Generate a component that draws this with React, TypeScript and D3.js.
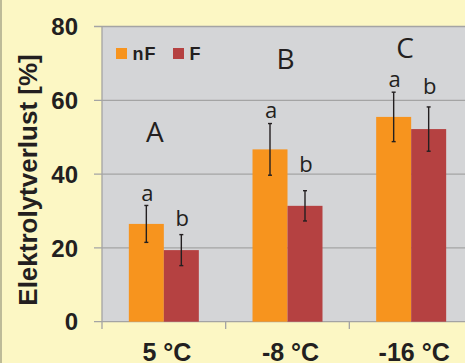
import React from "react";
import * as d3 from "d3";

const categories = ["5 °C", "-8 °C", "-16 °C"];
const series = ["nF", "F"];
const nFValues = [26.5, 46.7, 55.5];
const FValues = [19.4, 31.4, 52.2];
const nFErrors = [5.0, 7.0, 6.7];
const FErrors = [4.2, 4.1, 6.0];
const nFLetters = ["a", "a", "a"];
const FLetters = ["b", "b", "b"];
const nFLetterValues = [32.8, 55.2, 63.5];
const FLetterValues = [26.0, 40.6, 61.7];
const groupLetters = ["A", "B", "C"];
const groupLetterValues = [48.6, 68.4, 71.4];
const yTicks = [0, 20, 40, 60, 80];
const colors = { nF: "#F7941E", F: "#B54141" };

const W = 465;
const H = 363;
const plotLeft = 102;
const plotRight = 473;
const plotTop = 26.5;
const plotBottom = 321.7;

export default function App() {
  const y = d3.scaleLinear().domain([0, 80]).range([plotBottom, plotTop]);
  const x0 = d3
    .scaleBand<string>()
    .domain(categories)
    .range([plotLeft, plotRight])
    .paddingInner(0.434)
    .paddingOuter(0.217);
  const x1 = d3.scaleBand<string>().domain(series).range([0, x0.bandwidth()]);
  const step = x0.step();
  const textColor = "#231F20";
  const gridColor = "#A4A4A4";

  const data = categories.map((c, i) => ({
    c,
    bars: [
      { s: "nF", v: nFValues[i], e: nFErrors[i], l: nFLetters[i], lv: nFLetterValues[i] },
      { s: "F", v: FValues[i], e: FErrors[i], l: FLetters[i], lv: FLetterValues[i] },
    ],
  }));

  return (
    <svg
      width={W}
      height={H}
      style={{ position: "absolute", left: 0, top: 0 }}
      xmlns="http://www.w3.org/2000/svg"
    >
      <rect x={0} y={0} width={W} height={H} fill="#FCF7C4" />
      <line x1={1} x2={1} y1={0} y2={H} stroke="#A9A78A" strokeWidth={1.5} />
      <rect
        x={plotLeft}
        y={plotTop}
        width={plotRight - plotLeft}
        height={plotBottom - plotTop}
        fill="#D4D5D7"
      />
      {yTicks.map((t) => (
        <g key={t}>
          <line
            x1={94}
            x2={plotRight}
            y1={y(t)}
            y2={y(t)}
            stroke={gridColor}
            strokeWidth={1.3}
          />
          <text
            x={78}
            y={y(t) + 8.6}
            textAnchor="end"
            fontFamily="Liberation Sans, Arial, sans-serif"
            fontWeight="bold"
            fontSize={24}
            fill={textColor}
          >
            {t}
          </text>
        </g>
      ))}
      <line x1={plotLeft} x2={plotLeft} y1={plotTop} y2={329} stroke={gridColor} strokeWidth={1.3} />
      {categories.slice(1).map((c) => (
        <line
          key={c}
          x1={(x0(c) as number) - (step - x0.bandwidth()) / 2}
          x2={(x0(c) as number) - (step - x0.bandwidth()) / 2}
          y1={plotBottom}
          y2={329}
          stroke={gridColor}
          strokeWidth={1.3}
        />
      ))}
      {data.map((d) => (
        <g key={d.c} transform={`translate(${x0(d.c)},0)`}>
          {d.bars.map((b) => {
            const bx = x1(b.s) as number;
            const cx = bx + x1.bandwidth() / 2;
            return (
              <g key={b.s}>
                <rect
                  x={bx}
                  y={y(b.v)}
                  width={x1.bandwidth()}
                  height={y(0) - y(b.v)}
                  fill={colors[b.s as "nF" | "F"]}
                />
                <line x1={cx} x2={cx} y1={y(b.v + b.e)} y2={y(b.v - b.e)} stroke={textColor} strokeWidth={1.4} />
                <line x1={cx - 2} x2={cx + 2} y1={y(b.v + b.e)} y2={y(b.v + b.e)} stroke={textColor} strokeWidth={1.4} />
                <line x1={cx - 2} x2={cx + 2} y1={y(b.v - b.e)} y2={y(b.v - b.e)} stroke={textColor} strokeWidth={1.4} />
                <text
                  x={cx + 1}
                  y={y(b.lv)}
                  textAnchor="middle"
                  fontFamily="Open Sans, DejaVu Sans, sans-serif"
                  fontSize={22}
                  fill={textColor}
                >
                  {b.l}
                </text>
              </g>
            );
          })}
        </g>
      ))}
      {categories.map((c) => (
        <text
          key={c}
          x={(x0(c) as number) + x0.bandwidth() / 2 + 3}
          y={361.2}
          textAnchor="middle"
          fontFamily="Liberation Sans, Arial, sans-serif"
          fontWeight="bold"
          fontSize={25}
          fill={textColor}
        >
          {c}
        </text>
      ))}
      {groupLetters.map((g, i) => (
        <text
          key={g}
          x={(x0(categories[i]) as number) + x0.bandwidth() / 2 + [-9, -2, -6][i]}
          y={y(groupLetterValues[i])}
          textAnchor="middle"
          fontFamily="Open Sans, DejaVu Sans, sans-serif"
          fontSize={28}
          fill={textColor}
        >
          {g}
        </text>
      ))}
      <g>
        <rect x={116} y={48} width={11} height={11} fill={colors.nF} />
        <text x={132.5} y={60} fontFamily="Liberation Sans, Arial, sans-serif" fontWeight="bold" fontSize={18} fill={textColor} letterSpacing={1}>
          nF
        </text>
        <rect x={173} y={48} width={11} height={11} fill={colors.F} />
        <text x={189.5} y={60} fontFamily="Liberation Sans, Arial, sans-serif" fontWeight="bold" fontSize={18} fill={textColor}>
          F
        </text>
      </g>
      <text
        transform={`translate(37,180) rotate(-90)`}
        textAnchor="middle"
        fontFamily="Liberation Sans, Arial, sans-serif"
        fontWeight="bold"
        fontSize={26}
        fill={textColor}
      >
        Elektrolytverlust [%]
      </text>
    </svg>
  );
}
